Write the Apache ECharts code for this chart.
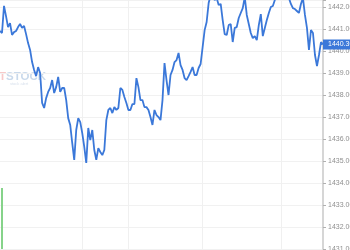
<!DOCTYPE html>
<html>
<head>
<meta charset="utf-8">
<script src="https://cdn.jsdelivr.net/npm/echarts@6/dist/echarts.min.js"></script>
<style>
html,body{margin:0;padding:0;background:#fff;}
#chart{width:350px;height:250px;}
</style>
</head>
<body>
<div id="chart"></div>
<script>
// Price series (one point per time step)
const prices = [
1440.91,1440.82,1442.05,1441.59,1441.09,1441.27,1440.73,1440.86,1440.91,1441.09,
1441.23,1441.05,1441.14,1440.77,1440.36,1440.05,1439.50,1439.14,1438.86,1439.27,
1439.00,1437.64,1437.41,1437.86,1438.14,1438.32,1438.68,1438.09,1438.36,1438.82,
1438.14,1438.32,1438.32,1437.77,1436.95,1436.64,1435.82,1435.05,1436.41,1436.95,
1436.77,1436.27,1435.64,1434.91,1436.50,1435.95,1436.41,1435.50,1435.05,1435.59,
1435.41,1435.27,1435.50,1436.86,1437.32,1437.41,1437.18,1437.45,1437.32,1437.41,
1438.32,1438.23,1437.91,1437.64,1437.32,1437.32,1437.59,1437.59,1438.77,1438.36,
1437.77,1437.77,1437.45,1437.45,1437.32,1437.00,1436.64,1437.32,1437.09,1437.00,
1436.86,1437.77,1439.45,1438.68,1438.00,1438.91,1439.14,1439.50,1439.59,1439.91,
1439.36,1439.14,1438.77,1438.68,1438.86,1439.05,1439.27,1438.91,1438.91,1439.23,
1439.41,1440.18,1440.95,1441.32,1442.18,1442.55,1442.45,1442.32,1442.41,1442.09,
1442.14,1441.41,1440.77,1440.73,1441.18,1441.23,1440.41,1441.05,1441.09,1441.50,
1441.73,1441.95,1442.45,1441.64,1441.23,1440.82,1440.59,1440.68,1440.50,1441.18,
1441.68,1440.68,1441.05,1441.41,1441.73,1442.00,1442.05,1442.32,1442.55,1442.68,
1442.59,1442.77,1442.59,1442.45,1442.41,1442.14,1441.95,1441.91,1441.82,1441.73,
1442.14,1442.41,1441.64,1441.05,1440.05,1440.95,1440.82,1439.82,1439.32,1439.82,
1440.41,1440.30
];
// Volume (only the first bar is visible in the crop)
const volumes = [null, 245];
const lastPrice = 1440.30;
// Indices where vertical separators are drawn
const separators = [41, 64, 101, 140];
const yMin = 1431, yMax = 1442.32, yStep = 1;

const categories = prices.map((_, i) => String(i));

const chart = echarts.init(document.getElementById('chart'), null, {renderer: 'canvas'});
chart.setOption({
  animation: false,
  backgroundColor: '#ffffff',
  graphic: [
    {
      type: 'text', left: -1, top: 71, silent: true, z: 0,
      style: {
        text: '{a|T}{b|STOCK}',
        rich: {
          a: {fill: 'rgba(235,120,120,0.4)', font: 'bold 11.5px "Liberation Sans", Arial, sans-serif'},
          b: {fill: 'rgba(120,160,205,0.4)', font: 'bold 11.5px "Liberation Sans", Arial, sans-serif'}
        }
      }
    },
    {
      type: 'text', left: 10, top: 82, silent: true, z: 0,
      style: {
        text: 'stock alert',
        fill: 'rgba(120,150,190,0.3)',
        font: '4px "Liberation Sans", Arial, sans-serif'
      }
    }
  ],
  grid: {left: 0, right: 27, top: 0, bottom: 1, containLabel: false, outerBoundsMode: 'none'},
  xAxis: {
    type: 'category',
    data: categories,
    boundaryGap: false,
    axisLine: {show: false},
    axisTick: {show: false},
    axisLabel: {show: false},
    splitLine: {
      show: true,
      interval: (idx) => separators.indexOf(idx) >= 0,
      lineStyle: {color: '#f0f0f0', width: 1}
    }
  },
  yAxis: [
    {
      type: 'value',
      position: 'right',
      min: yMin,
      max: yMax,
      interval: yStep,
      axisLine: {show: true, lineStyle: {color: '#c8c8c8', width: 1.5}},
      axisTick: {show: true, length: 3, lineStyle: {color: '#b0b0b0'}},
      axisLabel: {
        margin: 5,
        color: '#8f8f8f',
        fontSize: 7,
        fontFamily: '"Liberation Sans", Arial, sans-serif',
        formatter: (v) => Math.abs(v - Math.round(v)) < 1e-6 ? v.toFixed(2) : ''
      },
      splitLine: {show: true, lineStyle: {color: '#f1f1f1', width: 1}}
    },
    {
      type: 'value',
      min: 0,
      max: 1000,
      show: false
    }
  ],
  series: [
    {
      type: 'bar',
      yAxisIndex: 1,
      data: volumes,
      barWidth: 2,
      itemStyle: {color: '#86d38a'},
      silent: true
    },
    {
      type: 'line',
      data: prices,
      showSymbol: false,
      smooth: false,
      clip: true,
      lineStyle: {color: '#3b78d9', width: 1.8},
      z: 3,
      markLine: {
        silent: true,
        symbol: 'none',
        lineStyle: {color: 'rgba(0,0,0,0)', width: 0, type: 'solid'},
        data: [{yAxis: lastPrice}],
        label: {
          show: true,
          position: 'end',
          distance: 0,
          align: 'left',
          verticalAlign: 'middle',
          formatter: lastPrice.toFixed(2),
          color: '#ffffff',
          backgroundColor: '#3b78d9',
          fontSize: 7,
          fontFamily: '"Liberation Sans", Arial, sans-serif',
          padding: [2, 4, 1, 5]
        }
      }
    }
  ]
});
</script>
</body>
</html>
